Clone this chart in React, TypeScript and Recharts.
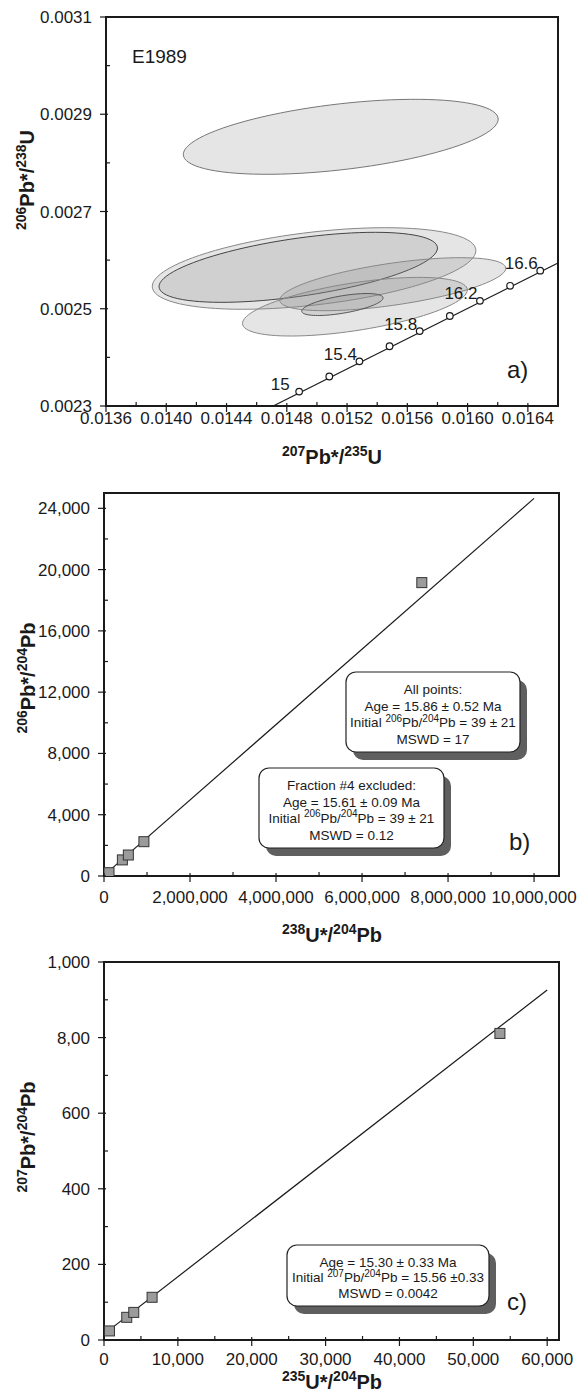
import { ReferenceArea, ReferenceLine, Scatter, ScatterChart, XAxis, YAxis } from 'recharts'

const FONT = '"Liberation Sans", Arial, Helvetica, sans-serif'
const INK = '#1a1a1a'

// ---------- panel a: concordia with error ellipses ----------
const ellipseX = [0.015158, 0.014981, 0.014876, 0.015503, 0.015252, 0.015169]
const ellipseY = [0.0028536, 0.0025828, 0.0025852, 0.0025505, 0.0025042, 0.0025087]
const ellipseErrX = [0.001045, 0.001074, 0.000924, 0.00075, 0.000746, 0.00027]
const ellipseErrY = [0.0000771, 0.0000839, 0.000072, 0.0000545, 0.0000603, 0.0000226]
const ellipseRho = [0.47, 0.44, 0.55, 0.6, 0.57, 0.6]
const ellipseEdge = ['#777', '#888', '#444', '#888', '#888', '#555']

const concordiaAges = ['15', '', '15.4', '', '15.8', '', '16.2', '', '16.6']
const concordiaX = [0.014882, 0.015082, 0.015282, 0.015482, 0.015682, 0.015882, 0.016082, 0.016282, 0.016482]
const concordiaY = [0.0023296, 0.0023607, 0.0023918, 0.0024229, 0.002454, 0.0024851, 0.0025162, 0.0025472, 0.0025784]
const concordiaEnds = [
  { x: 0.01471, y: 0.0023 },
  { x: 0.0166, y: 0.002594 },
]

const xTicksA = [0.0136, 0.0138, 0.014, 0.0142, 0.0144, 0.0146, 0.0148, 0.015, 0.0152, 0.0154, 0.0156, 0.0158, 0.016, 0.0162, 0.0164]
const xMajorsA = [0.0136, 0.014, 0.0144, 0.0148, 0.0152, 0.0156, 0.016, 0.0164]
const xLabelsA = ['0.0136', '0.0140', '0.0144', '0.0148', '0.0152', '0.0156', '0.0160', '0.0164']
const yTicksA = [0.0023, 0.0024, 0.0025, 0.0026, 0.0027, 0.0028, 0.0029, 0.003, 0.0031]
const yMajorsA = [0.0023, 0.0025, 0.0027, 0.0029, 0.0031]
const yLabelsA = ['0.0023', '0.0025', '0.0027', '0.0029', '0.0031']

// ---------- panel b: 206Pb/204Pb isochron ----------
const isoBX = [116000, 427000, 566000, 928000, 7390000]
const isoBY = [216, 1050, 1370, 2240, 19150]
const fitB = [
  { x: 0, y: 40 },
  { x: 10000000, y: 24650 },
]
const xTicksB = [0, 1e6, 2e6, 3e6, 4e6, 5e6, 6e6, 7e6, 8e6, 9e6, 1e7]
const xMajorsB = [0, 2e6, 4e6, 6e6, 8e6, 1e7]
const xLabelsB = ['0', '2,000,000', '4,000,000', '6,000,000', '8,000,000', '10,000,000']
const yTicksB = [0, 2000, 4000, 6000, 8000, 10000, 12000, 14000, 16000, 18000, 20000, 22000, 24000]
const yMajorsB = [0, 4000, 8000, 12000, 16000, 20000, 24000]
const yLabelsB = ['0', '4,000', '8,000', '12,000', '16,000', '20,000', '24,000']

// ---------- panel c: 207Pb/204Pb isochron ----------
const isoCX = [740, 3080, 4030, 6510, 53600]
const isoCY = [24, 60, 73, 113, 811]
const fitC = [
  { x: 0, y: 15.6 },
  { x: 60000, y: 926 },
]
const xTicksC = [0, 5000, 10000, 15000, 20000, 25000, 30000, 35000, 40000, 45000, 50000, 55000, 60000]
const xMajorsC = [0, 10000, 20000, 30000, 40000, 50000, 60000]
const xLabelsC = ['0', '10,000', '20,000', '30,000', '40,000', '50,000', '60,000']
const yTicksC = [0, 100, 200, 300, 400, 500, 600, 700, 800, 900, 1000]
const yMajorsC = [0, 200, 400, 600, 800, 1000]
const yLabelsC = ['0', '200', '400', '600', '8,00', '1,000']

const near = (a: number, b: number) => Math.abs(a - b) <= 1e-9 * Math.max(1, Math.abs(b))

const makeXTick = (majors: number[], labels: string[], labelDy: number) => (props: any) => {
  const { x, y, payload } = props
  const i = majors.findIndex((m) => near(m, payload.value))
  if (i < 0) {
    return <line x1={x} x2={x} y1={y} y2={y - 4} stroke={INK} strokeWidth={1.2} />
  }
  return (
    <g>
      <line x1={x} x2={x} y1={y - 3} y2={y + 6} stroke={INK} strokeWidth={1.2} />
      <text x={x} y={y + labelDy} textAnchor="middle" fontSize={17} fontFamily={FONT} fill={INK}>
        {labels[i]}
      </text>
    </g>
  )
}

const makeYTick = (majors: number[], labels: string[]) => (props: any) => {
  const { x, y, payload } = props
  const i = majors.findIndex((m) => near(m, payload.value))
  if (i < 0) {
    return <line x1={x} x2={x + 4} y1={y} y2={y} stroke={INK} strokeWidth={1.2} />
  }
  return (
    <g>
      <line x1={x - 6} x2={x + 2} y1={y} y2={y} stroke={INK} strokeWidth={1.2} />
      <text x={x - 14} y={y + 6} textAnchor="end" fontSize={17} fontFamily={FONT} fill={INK}>
        {labels[i]}
      </text>
    </g>
  )
}

// error ellipse inscribed in its error box, tilted by the error correlation
const EllipseShape = ({ x, y, width, height, rho, edge }: any) => {
  const cx = x + width / 2
  const cy = y + height / 2
  const a = width / 2
  const b = height / 2
  const s = Math.sqrt(1 - rho * rho)
  let d = ''
  for (let k = 0; k <= 96; k++) {
    const t = (k / 96) * Math.PI * 2
    const px = cx + a * Math.cos(t)
    const py = cy - b * (rho * Math.cos(t) + s * Math.sin(t))
    d += `${k ? 'L' : 'M'}${px.toFixed(2)},${py.toFixed(2)}`
  }
  return <path d={`${d}Z`} fill="#8a8a8a" fillOpacity={0.22} stroke={edge} strokeWidth={1} />
}

const ConcordiaMark = ({ cx, cy, payload }: any) => (
  <g>
    <circle cx={cx} cy={cy} r={3.3} fill="#fff" stroke={INK} strokeWidth={1.2} />
    {payload.label ? (
      <text x={cx - 19} y={cy - 1.5} textAnchor="middle" fontSize={17} fontFamily={FONT} fill={INK}>
        {payload.label}
      </text>
    ) : null}
  </g>
)

const SquareMark = ({ cx, cy }: any) => (
  <rect x={cx - 5} y={cy - 5} width={10} height={10} fill="#9b9b9b" stroke="#333" strokeWidth={1} />
)

const axisLine = { stroke: INK, strokeWidth: 2 }

type Part = [string, boolean]

const RichText = ({
  x,
  y,
  parts,
  size,
  supSize,
  bold = false,
  vertical = false,
}: {
  x: number
  y: number
  parts: Part[]
  size: number
  supSize: number
  bold?: boolean
  vertical?: boolean
}) => {
  let prev = false
  const shift = size * 0.42
  return (
    <text
      x={x}
      y={y}
      textAnchor="middle"
      fontFamily={FONT}
      fontWeight={bold ? 700 : 400}
      fontSize={size}
      fill={INK}
      transform={vertical ? `rotate(-90 ${x} ${y})` : undefined}
    >
      {parts.map(([str, sup], i) => {
        const dy = sup && !prev ? -shift : !sup && prev ? shift : 0
        prev = sup
        return (
          <tspan key={i} dy={dy} fontSize={sup ? supSize : size}>
            {str}
          </tspan>
        )
      })}
    </text>
  )
}

const NoteBox = ({ x, y, w, h, lines, step }: { x: number; y: number; w: number; h: number; lines: Part[][]; step: number }) => (
  <g>
    <rect x={x + 7} y={y + 8} width={w} height={h} rx={10} fill="#5f5f5f" />
    <rect x={x} y={y} width={w} height={h} rx={10} fill="#fff" stroke="#222" strokeWidth={1.2} />
    {lines.map((parts, i) => (
      <RichText key={i} x={x + w / 2} y={y + 22 + i * step} parts={parts} size={13.5} supSize={10} />
    ))}
  </g>
)

const pm = '\u00b1'

export default function App() {
  const concordiaPoints = concordiaX.map((x, i) => ({ x, y: concordiaY[i], label: concordiaAges[i] }))
  const pointsB = isoBX.map((x, i) => ({ x, y: isoBY[i] }))
  const pointsC = isoCX.map((x, i) => ({ x, y: isoCY[i] }))

  return (
    <div style={{ position: 'absolute', left: 0, top: 0, width: 587, height: 1398, background: '#fff', overflow: 'hidden' }}>
      {/* a) concordia */}
      <div style={{ position: 'absolute', left: 0, top: 0 }}>
        <ScatterChart width={587} height={470} margin={{ top: 17, right: 29, bottom: 0, left: 0 }}>
          <XAxis
            type="number"
            dataKey="x"
            domain={[0.0136, 0.0166]}
            allowDataOverflow
            ticks={xTicksA}
            interval={0}
            tickSize={0}
            tickMargin={0}
            tickLine={false}
            axisLine={axisLine}
            tick={makeXTick(xMajorsA, xLabelsA, 18)}
            height={64}
          />
          <YAxis
            type="number"
            dataKey="y"
            domain={[0.0023, 0.0031]}
            allowDataOverflow
            ticks={yTicksA}
            interval={0}
            tickSize={0}
            tickMargin={0}
            tickLine={false}
            axisLine={axisLine}
            tick={makeYTick(yMajorsA, yLabelsA)}
            width={106}
          />
          {ellipseX.map((cx, i) => (
            <ReferenceArea
              key={`e${i}`}
              x1={cx - ellipseErrX[i]}
              x2={cx + ellipseErrX[i]}
              y1={ellipseY[i] - ellipseErrY[i]}
              y2={ellipseY[i] + ellipseErrY[i]}
              ifOverflow="visible"
              shape={(p: any) => <EllipseShape {...p} rho={ellipseRho[i]} edge={ellipseEdge[i]} />}
            />
          ))}
          <ReferenceLine segment={concordiaEnds} stroke={INK} strokeWidth={1.2} ifOverflow="visible" />
          <Scatter data={concordiaPoints} shape={ConcordiaMark} isAnimationActive={false} />
          <ReferenceArea x1={0.0136} x2={0.0166} y1={0.0023} y2={0.0031} fill="none" stroke={INK} strokeWidth={2} ifOverflow="visible" />
        </ScatterChart>
      </div>

      {/* b) 206Pb/204Pb isochron */}
      <div style={{ position: 'absolute', left: 0, top: 470 }}>
        <ScatterChart width={587} height={440} margin={{ top: 23, right: 28, bottom: 0, left: 0 }}>
          <XAxis
            type="number"
            dataKey="x"
            domain={[0, 10580000]}
            allowDataOverflow
            ticks={xTicksB}
            interval={0}
            tickSize={0}
            tickMargin={0}
            tickLine={false}
            axisLine={axisLine}
            tick={makeXTick(xMajorsB, xLabelsB, 27)}
            height={34}
          />
          <YAxis
            type="number"
            dataKey="y"
            domain={[0, 25000]}
            allowDataOverflow
            ticks={yTicksB}
            interval={0}
            tickSize={0}
            tickMargin={0}
            tickLine={false}
            axisLine={axisLine}
            tick={makeYTick(yMajorsB, yLabelsB)}
            width={104}
          />
          <ReferenceLine segment={fitB} stroke={INK} strokeWidth={1.2} ifOverflow="visible" />
          <Scatter data={pointsB} shape={SquareMark} isAnimationActive={false} />
          <ReferenceArea x1={0} x2={10580000} y1={0} y2={25000} fill="none" stroke={INK} strokeWidth={2} ifOverflow="visible" />
        </ScatterChart>
      </div>

      {/* c) 207Pb/204Pb isochron */}
      <div style={{ position: 'absolute', left: 0, top: 910 }}>
        <ScatterChart width={587} height={488} margin={{ top: 52, right: 28, bottom: 0, left: 0 }}>
          <XAxis
            type="number"
            dataKey="x"
            domain={[0, 61600]}
            allowDataOverflow
            ticks={xTicksC}
            interval={0}
            tickSize={0}
            tickMargin={0}
            tickLine={false}
            axisLine={axisLine}
            tick={makeXTick(xMajorsC, xLabelsC, 25)}
            height={58}
          />
          <YAxis
            type="number"
            dataKey="y"
            domain={[0, 1000]}
            allowDataOverflow
            ticks={yTicksC}
            interval={0}
            tickSize={0}
            tickMargin={0}
            tickLine={false}
            axisLine={axisLine}
            tick={makeYTick(yMajorsC, yLabelsC)}
            width={104}
          />
          <ReferenceLine segment={fitC} stroke={INK} strokeWidth={1.2} ifOverflow="visible" />
          <Scatter data={pointsC} shape={SquareMark} isAnimationActive={false} />
          <ReferenceArea x1={0} x2={61600} y1={0} y2={1000} fill="none" stroke={INK} strokeWidth={2} ifOverflow="visible" />
        </ScatterChart>
      </div>

      {/* titles and annotations */}
      <svg width={587} height={1398} style={{ position: 'absolute', left: 0, top: 0, pointerEvents: 'none' }}>
        <text x={132} y={63} fontSize={19} fontFamily={FONT} fill={INK}>
          E1989
        </text>
        <text x={507} y={378} fontSize={24} fontFamily={FONT} fill={INK}>
          a)
        </text>
        <RichText x={332} y={464} parts={[['207', true], ['Pb*/', false], ['235', true], ['U', false]]} size={20} supSize={14} bold />
        <RichText x={34} y={180} parts={[['206', true], ['Pb*/', false], ['238', true], ['U', false]]} size={20} supSize={14} bold vertical />

        <text x={509} y={850} fontSize={24} fontFamily={FONT} fill={INK}>
          b)
        </text>
        <RichText x={332} y={942} parts={[['238', true], ['U*/', false], ['204', true], ['Pb', false]]} size={20} supSize={14} bold />
        <RichText x={35} y={678} parts={[['206', true], ['Pb*/', false], ['204', true], ['Pb', false]]} size={20} supSize={14} bold vertical />
        <NoteBox
          x={346}
          y={672}
          w={174}
          h={80}
          step={16.7}
          lines={[
            [['All points:', false]],
            [[`Age = 15.86 ${pm} 0.52 Ma`, false]],
            [['Initial ', false], ['206', true], ['Pb/', false], ['204', true], [`Pb = 39 ${pm} 21`, false]],
            [['MSWD = 17', false]],
          ]}
        />
        <NoteBox
          x={259}
          y={768}
          w={185}
          h={80}
          step={16.5}
          lines={[
            [['Fraction #4 excluded:', false]],
            [[`Age = 15.61 ${pm} 0.09 Ma`, false]],
            [['Initial ', false], ['206', true], ['Pb/', false], ['204', true], [`Pb = 39 ${pm} 21`, false]],
            [['MSWD = 0.12', false]],
          ]}
        />

        <text x={507} y={1310} fontSize={24} fontFamily={FONT} fill={INK}>
          c)
        </text>
        <RichText x={332} y={1389} parts={[['235', true], ['U*/', false], ['204', true], ['Pb', false]]} size={20} supSize={14} bold />
        <RichText x={35} y={1137} parts={[['207', true], ['Pb*/', false], ['204', true], ['Pb', false]]} size={20} supSize={14} bold vertical />
        <NoteBox
          x={287}
          y={1245}
          w={202}
          h={61}
          step={15.3}
          lines={[
            [[`Age = 15.30 ${pm} 0.33 Ma`, false]],
            [['Initial ', false], ['207', true], ['Pb/', false], ['204', true], [`Pb = 15.56 ${pm}0.33`, false]],
            [['MSWD = 0.0042', false]],
          ]}
        />
      </svg>
    </div>
  )
}
